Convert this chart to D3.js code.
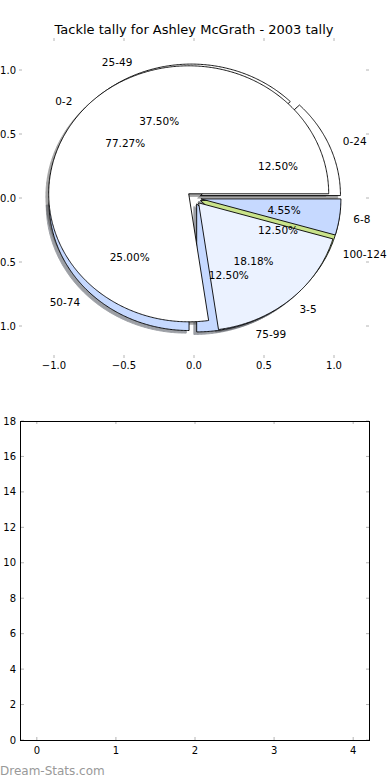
<!DOCTYPE html>
<html>
<head>
<meta charset="utf-8">
<script src="https://cdn.jsdelivr.net/npm/d3@7"></script>
<style>
  body { margin: 0; background: #fff; }
  text { font-family: "DejaVu Sans", sans-serif; fill: #000; }
</style>
</head>
<body>
<script>
// two pies share one axes, an empty axes sits below

const titleText = 'Tackle tally for Ashley McGrath - 2003 tally';

const tackleLabels = ['0-2', '3-5', '6-8'];
const tackleValues = [17, 4, 1];
const tackleColors = ['#ffffff', '#ebf2ff', '#c6d9ff'];

const rangeLabels = ['0-24', '25-49', '50-74', '75-99', '100-124'];
const rangeValues = [1, 3, 2, 1, 1];
const rangeColors = ['#ffffff', '#ffffff', '#c6d9ff', '#c6d9ff', '#c9e38a'];

const pieTicks = [-1.0, -0.5, 0.0, 0.5, 1.0];
const lowerXTicks = [0, 1, 2, 3, 4];
const lowerYTicks = [0, 2, 4, 6, 8, 10, 12, 14, 16, 18];

const explode = 0.05;

const svg = d3.select('body').append('svg')
    .attr('width', 390)
    .attr('height', 780);

// scales for the pie axes (not equal aspect, so the pies are ovals)
const x = d3.scaleLinear().domain([-1.25, 1.25]).range([19, 369]);
const y = d3.scaleLinear().domain([-1.25, 1.25]).range([358, 38]);

svg.append('text')
    .attr('x', 194)
    .attr('y', 34)
    .attr('text-anchor', 'middle')
    .attr('font-size', 13)
    .text(titleText);

const pie = d3.pie().sort(null).startAngle(0).endAngle(2 * Math.PI);

const buildPie = (values, labels, colors) => {
    const total = d3.sum(values);
    return pie(values).map((d, i) => {
        const mid = (d.startAngle + d.endAngle) / 2;
        return {
            a0: d.startAngle,
            a1: d.endAngle,
            mid: mid,
            cx: explode * Math.cos(mid),
            cy: explode * Math.sin(mid),
            label: labels[i],
            color: colors[i],
            pct: d.value / total * 100
        };
    });
};

const tackles = buildPie(tackleValues, tackleLabels, tackleColors);
const ranges = buildPie(rangeValues, rangeLabels, rangeColors);

const line = d3.line().x(p => x(p[0])).y(p => y(p[1]));

const wedgePath = (d, dx, dy) => {
    const n = Math.max(2, Math.ceil((d.a1 - d.a0) / 0.01));
    const pts = [[d.cx + dx, d.cy + dy]];
    d3.range(n + 1).forEach(i => {
        const a = d.a0 + (d.a1 - d.a0) * i / n;
        pts.push([d.cx + dx + Math.cos(a), d.cy + dy + Math.sin(a)]);
    });
    return line(pts) + 'Z';
};

const shade = c => {
    const r = d3.rgb(c);
    return d3.rgb(r.r * 0.3, r.g * 0.3, r.b * 0.3).toString();
};

// shadows go under everything
const g = svg.append('g');
g.selectAll('.shadow').data(ranges.concat(tackles))
  .enter().append('path')
    .attr('d', d => wedgePath(d, -0.02, -0.02))
    .attr('fill', d => shade(d.color))
    .attr('stroke', d => shade(d.color))
    .attr('stroke-width', 1)
    .attr('opacity', 0.5);

// second pie first, then tackle pie on top
[ranges, tackles].forEach(set => {
    g.append('g').selectAll('path').data(set)
      .enter().append('path')
        .attr('d', d => wedgePath(d, 0, 0))
        .attr('fill', d => d.color)
        .attr('stroke', '#000')
        .attr('stroke-width', 0.9)
        .attr('stroke-linejoin', 'miter');
});

[ranges, tackles].forEach(set => {
    set.forEach(d => {
        const lx = d.cx + 1.1 * Math.cos(d.mid);
        const ly = d.cy + 1.1 * Math.sin(d.mid);
        g.append('text')
            .attr('x', x(lx))
            .attr('y', y(ly))
            .attr('dy', '0.35em')
            .attr('text-anchor', lx > 0 ? 'start' : 'end')
            .attr('font-size', 10.5)
            .text(d.label);
        g.append('text')
            .attr('x', x(d.cx + 0.6 * Math.cos(d.mid)))
            .attr('y', y(d.cy + 0.6 * Math.sin(d.mid)))
            .attr('dy', '0.35em')
            .attr('text-anchor', 'middle')
            .attr('font-size', 10.5)
            .text(d.pct.toFixed(2) + '%');
    });
});

// tick marks for the pie axes (frame is off)
const tickCol = '#b4b4b4';
const fmt = v => (v < 0 ? '\u2212' : '') + Math.abs(v).toFixed(1);
pieTicks.forEach(t => {
    [[38, 41], [355, 358]].forEach(([a, b]) => {
        svg.append('line').attr('x1', x(t)).attr('x2', x(t)).attr('y1', a).attr('y2', b)
            .attr('stroke', tickCol);
    });
    [[19, 22], [366, 369]].forEach(([a, b]) => {
        svg.append('line').attr('y1', y(t)).attr('y2', y(t)).attr('x1', a).attr('x2', b)
            .attr('stroke', tickCol);
    });
    svg.append('text')
        .attr('x', x(t)).attr('y', 369)
        .attr('text-anchor', 'middle').attr('font-size', 10)
        .text(fmt(t));
    svg.append('text')
        .attr('x', 16).attr('y', y(t)).attr('dy', '0.35em')
        .attr('text-anchor', 'end').attr('font-size', 10)
        .text(fmt(t));
});

// lower, empty axes
const x2 = d3.scaleLinear().domain([-0.2, 4.2]).range([21, 369]);
const y2 = d3.scaleLinear().domain([0, 18]).range([740, 421]);

const lower = svg.append('g');
lowerXTicks.forEach(t => {
    lower.append('line').attr('x1', x2(t)).attr('x2', x2(t)).attr('y1', 421).attr('y2', 424)
        .attr('stroke', tickCol);
    lower.append('line').attr('x1', x2(t)).attr('x2', x2(t)).attr('y1', 737).attr('y2', 740)
        .attr('stroke', tickCol);
    lower.append('text')
        .attr('x', x2(t)).attr('y', 754)
        .attr('text-anchor', 'middle').attr('font-size', 10)
        .text(t);
});
lowerYTicks.forEach(t => {
    lower.append('line').attr('y1', y2(t)).attr('y2', y2(t)).attr('x1', 21).attr('x2', 24)
        .attr('stroke', tickCol);
    lower.append('line').attr('y1', y2(t)).attr('y2', y2(t)).attr('x1', 366).attr('x2', 369)
        .attr('stroke', tickCol);
    lower.append('text')
        .attr('x', 16).attr('y', y2(t)).attr('dy', '0.35em')
        .attr('text-anchor', 'end').attr('font-size', 10)
        .text(t);
});
lower.append('rect')
    .attr('x', 20.5).attr('y', 421.5)
    .attr('width', 349).attr('height', 319)
    .attr('fill', 'none')
    .attr('stroke', '#000');

svg.append('text')
    .attr('x', 0).attr('y', 775)
    .attr('font-size', 12)
    .style('fill', '#999')
    .text('Dream-Stats.com');
</script>
</body>
</html>
